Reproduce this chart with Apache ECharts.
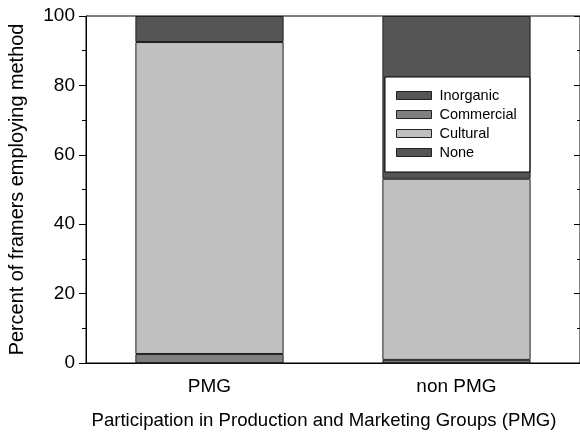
<!DOCTYPE html>
<html><head><meta charset="utf-8">
<script src="https://cdn.jsdelivr.net/npm/echarts@6/dist/echarts.min.js"></script>
<style>html,body{margin:0;padding:0;background:#fff}#c{width:580px;height:432px}</style>
</head><body><div id="c"></div>
<script>
var categories = ['PMG', 'non PMG'];
var inorganic = [0, 0];
var commercial = [2.6, 0.9];
var cultural = [89.9, 52.2];
var none = [7.5, 46.9];
var yTicks = [0, 20, 40, 60, 80, 100];

var FONT = 'Liberation Sans, Arial, sans-serif';
var chart = echarts.init(document.getElementById('c'));
function bar(name, data, color) {
  return {
    name: name, type: 'bar', stack: 'a', data: data, barWidth: '60%',
    itemStyle: { color: color, borderColor: '#222', borderWidth: 1 },
    emphasis: { disabled: true }
  };
}
chart.setOption({
  animation: false,
  grid: { left: 86, top: 16, right: 0, bottom: 69, outerBoundsMode: 'none', containLabel: false,
          show: true, borderColor: '#000', borderWidth: 1 },
  legend: {
    orient: 'vertical', left: 385, top: 77,
    data: ['Inorganic', 'Commercial', 'Cultural', 'None'],
    backgroundColor: '#fff', borderColor: '#000', borderWidth: 1,
    padding: [11, 13, 12, 11],
    itemWidth: 35, itemHeight: 8, itemGap: 4, icon: 'rect',
    itemStyle: { borderColor: '#222', borderWidth: 1 },
    textStyle: { fontFamily: FONT, fontSize: 14.5, color: '#000', padding: [0, 0, 0, 3] }
  },
  xAxis: {
    type: 'category', data: categories,
    axisLine: { lineStyle: { color: '#000', width: 1 } },
    axisTick: { alignWithLabel: true, length: 5, lineStyle: { color: '#000' } },
    axisLabel: { fontFamily: FONT, fontSize: 19, color: '#000', margin: 14 },
    name: 'Participation in Production and Marketing Groups (PMG)',
    nameLocation: 'middle', nameGap: 48,
    nameTextStyle: { fontFamily: FONT, fontSize: 18.6, color: '#000', padding: [0, 18, 0, 0] }
  },
  yAxis: [{
    type: 'value', min: yTicks[0], max: yTicks[yTicks.length - 1], interval: 20,
    axisLine: { show: true, lineStyle: { color: '#000' } },
    axisTick: { show: true, length: 7, lineStyle: { color: '#000' } },
    minorTick: { show: true, splitNumber: 2, length: 4, lineStyle: { color: '#000' } },
    splitLine: { show: false },
    axisLabel: { fontFamily: FONT, fontSize: 19, color: '#000', margin: 11 },
    name: 'Percent of framers employing method',
    nameLocation: 'middle', nameGap: 58,
    nameTextStyle: { fontFamily: FONT, fontSize: 19.9, color: '#000' }
  }, {
    type: 'value', min: 0, max: 100, interval: 20, position: 'right',
    axisLine: { show: true, lineStyle: { color: '#000' } },
    axisTick: { show: true, inside: true, length: 6, lineStyle: { color: '#000' } },
    minorTick: { show: true, splitNumber: 2, length: 3, lineStyle: { color: '#000' } },
    splitLine: { show: false },
    axisLabel: { show: false }
  }],
  series: [
    bar('Inorganic', inorganic, '#555555'),
    bar('Commercial', commercial, '#808080'),
    bar('Cultural', cultural, '#c0c0c0'),
    bar('None', none, '#555555')
  ]
});
</script></body></html>
